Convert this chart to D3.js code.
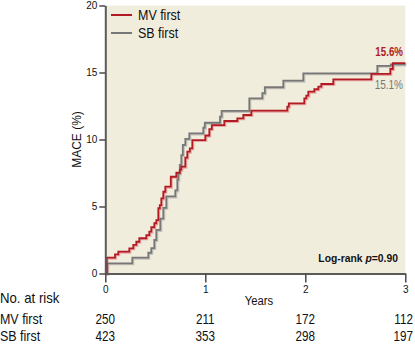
<!DOCTYPE html>
<html><head><meta charset="utf-8">
<script src="https://cdn.jsdelivr.net/npm/d3@7"></script>
<style>
body{margin:0;background:#fff;}
svg{display:block;}
text{font-family:"Liberation Sans",Arial,sans-serif;}
</style></head>
<body><svg id="c" width="415" height="344"></svg>
<script>
// ---- data ----
const seriesNames = ["MV first", "SB first"];
const mvTimes = [0, 0.014, 0.097, 0.13, 0.24, 0.28, 0.31, 0.34, 0.41, 0.44, 0.46, 0.49, 0.51, 0.53, 0.545, 0.56, 0.58, 0.60, 0.655, 0.71, 0.745, 0.76, 0.80, 0.82, 0.845, 0.87, 1.0, 1.04, 1.065, 1.19, 1.32, 1.38, 1.46, 1.82, 1.835, 1.99, 2.01, 2.03, 2.09, 2.13, 2.16, 2.28, 2.66, 2.85, 2.875, 3.0];
const mvValues = [0, 1.18, 1.43, 1.63, 1.88, 2.13, 2.37, 2.63, 2.87, 3.12, 3.45, 3.75, 3.99, 4.87, 5.1, 5.6, 6.1, 6.48, 7.22, 7.52, 7.75, 7.97, 8.64, 9.09, 9.34, 9.96, 10.3, 10.78, 11.08, 11.38, 11.58, 11.83, 12.15, 12.45, 12.70, 13.07, 13.27, 13.57, 13.75, 13.94, 14.14, 14.49, 14.89, 15.26, 15.7, 15.7];
const sbTimes = [0, 0.02, 0.27, 0.43, 0.46, 0.49, 0.51, 0.55, 0.58, 0.61, 0.70, 0.72, 0.73, 0.745, 0.76, 0.775, 0.80, 0.84, 0.98, 0.995, 1.147, 1.163, 1.44, 1.57, 1.595, 1.78, 1.98, 2.72, 2.855, 3.0];
const sbValues = [0, 0.76, 1.18, 1.55, 1.9, 2.5, 3.25, 4.1, 4.9, 5.75, 6.2, 7.0, 7.47, 8.1, 8.84, 9.6, 10.04, 10.45, 10.88, 11.25, 11.7, 12.13, 13.07, 13.45, 13.9, 14.39, 14.94, 15.5, 15.6, 15.6];
const yTicks = [0, 5, 10, 15, 20];
const xTicks = [0, 1, 2, 3];
const riskTimes = [0, 1, 2, 3];
const mvAtRisk = [250, 211, 172, 112];
const sbAtRisk = [423, 353, 298, 197];
const endLabels = ["15.6%", "15.1%"];

const colors = ["#b31b22", "#777777"];
const shadow = ["#e7a9a6", "#c4c2ba"];

// compress text horizontally (condensed look)
function squeeze(sel, f) {
  sel.each(function () {
    const len = this.getComputedTextLength();
    d3.select(this).attr("textLength", len * f).attr("lengthAdjust", "spacingAndGlyphs");
  });
  return sel;
}

const svg = d3.select("#c");
const x = d3.scaleLinear().domain([0, 3]).range([105.3, 405.3]);
const y = d3.scaleLinear().domain([0, 20]).range([273.5, 5.5]);

svg.append("rect").attr("x", x(0)).attr("y", y(20)).attr("width", x(3) - x(0)).attr("height", y(0) - y(20)).attr("fill", "#f1eddd");

const line = d3.line().x(d => x(d[0])).y(d => y(d[1])).curve(d3.curveStepAfter);
const series = [d3.zip(mvTimes, mvValues), d3.zip(sbTimes, sbValues)];
[1, 0].forEach(i => {
  svg.append("path").datum(series[i]).attr("d", line).attr("fill", "none")
    .attr("stroke", shadow[i]).attr("stroke-width", 2).attr("transform", "translate(1,1)");
});
[1, 0].forEach(i => {
  svg.append("path").datum(series[i]).attr("d", line).attr("fill", "none")
    .attr("stroke", colors[i]).attr("stroke-width", 1.8);
});

// axes
const yAx = svg.append("g").attr("transform", `translate(${x(0)},0)`)
  .call(d3.axisLeft(y).tickValues(yTicks).tickFormat(d3.format("d")).tickSize(6).tickPadding(2).tickSizeOuter(0));
const xAx = svg.append("g").attr("transform", `translate(0,${y(0)})`)
  .call(d3.axisBottom(x).tickValues(xTicks).tickFormat(d3.format("d")).tickSize(9).tickPadding(3).tickSizeOuter(0));
[yAx, xAx].forEach(g => {
  g.select(".domain").attr("stroke", "#5a5a5a").attr("stroke-width", 2);
  g.selectAll(".tick line").attr("stroke", "#4a4a4a").attr("stroke-width", 1.5);
  g.selectAll(".tick text").attr("fill", "#111").style("font-size", "10px").style("font-family", '"Liberation Sans",Arial,sans-serif');
});

// axis titles
squeeze(svg.append("text").attr("transform", `translate(81,${(y(0) + y(20)) / 2}) rotate(-90)`)
  .attr("text-anchor", "middle").style("font-size", "13px").attr("fill", "#111").text("MACE (%)"), 0.92);
squeeze(svg.append("text").attr("x", 259).attr("y", 305).attr("text-anchor", "middle")
  .style("font-size", "12.5px").attr("fill", "#111").text("Years"), 0.9);

// legend
seriesNames.forEach((n, i) => {
  const ly = 15 + i * 18;
  svg.append("line").attr("x1", 111).attr("x2", 132).attr("y1", ly).attr("y2", ly)
    .attr("stroke", colors[i]).attr("stroke-width", 2);
  squeeze(svg.append("text").attr("x", 138).attr("y", ly + 5).style("font-size", "14px").attr("fill", "#111").text(n), 0.89);
});

// end labels
squeeze(svg.append("text").attr("x", 403).attr("y", 56).attr("text-anchor", "end")
  .style("font-size", "12.5px").style("font-weight", "bold").attr("fill", colors[0]).text(endLabels[0]), 0.78);
squeeze(svg.append("text").attr("x", 403).attr("y", 89).attr("text-anchor", "end")
  .style("font-size", "12.5px").attr("fill", colors[1]).text(endLabels[1]), 0.8);

// log-rank (condensed via group scale)
const lrg = svg.append("g").attr("transform", "translate(398,262) scale(0.9,1)");
const lr = lrg.append("text").attr("x", 0).attr("y", 0).attr("text-anchor", "end")
  .style("font-size", "11.5px").style("font-weight", "bold").attr("fill", "#111");
lr.append("tspan").text("Log-rank ");
lr.append("tspan").style("font-style", "italic").text("p");
lr.append("tspan").text("=0.90");

// number at risk
squeeze(svg.append("text").attr("x", 0).attr("y", 303).style("font-size", "15px").attr("fill", "#111").text("No. at risk"), 0.88);
[[seriesNames[0], mvAtRisk, 324], [seriesNames[1], sbAtRisk, 341]].forEach(([n, vals, ry]) => {
  squeeze(svg.append("text").attr("x", 0).attr("y", ry).style("font-size", "15px").attr("fill", "#111").text(n), 0.83);
  vals.forEach((v, j) => {
    const last = j === vals.length - 1;
    const gx = last ? 413 : x(riskTimes[j]);
    svg.append("g").attr("transform", `translate(${gx},${ry}) scale(0.78,1)`)
      .append("text").attr("x", 0).attr("y", 0)
      .attr("text-anchor", last ? "end" : "middle")
      .style("font-size", "15px").attr("fill", "#111").text(v);
  });
});
</script></body></html>
